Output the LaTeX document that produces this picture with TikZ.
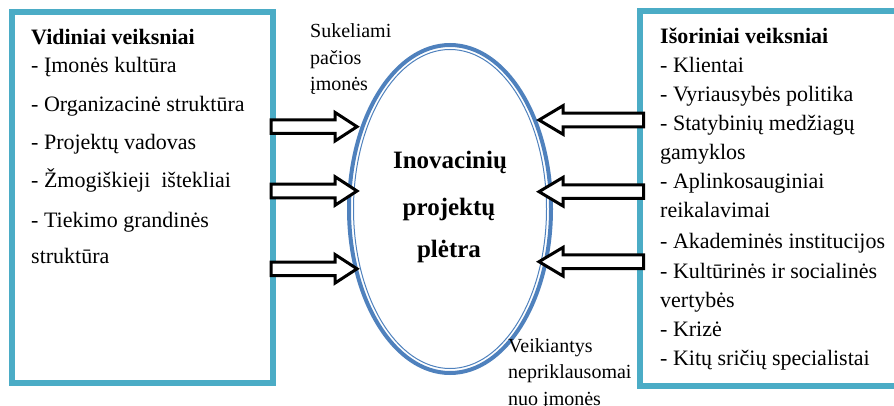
\documentclass[tikz,border=0pt]{standalone}
\usepackage{fontspec}
\setmainfont{Liberation Serif}
\usetikzlibrary{shapes.geometric,calc}
\definecolor{boxblue}{HTML}{4BACC6}
\definecolor{ellblue}{HTML}{4F81BD}
\tikzset{
  framebox/.style={draw=boxblue, line width=6pt, rectangle, inner sep=0pt, fill=white},
  innerframe/.style={draw=boxblue, line width=1.2pt},
  listtxt/.style={anchor=base west, inner sep=0pt, font=\fontsize{22}{26}\selectfont},
  titletxt/.style={listtxt, font=\fontsize{22}{26}\selectfont\bfseries},
  sidetxt/.style={anchor=base west, inner sep=0pt, font=\fontsize{20}{24}\selectfont},
  centertxt/.style={anchor=base, inner sep=0pt, font=\fontsize{25}{30}\selectfont\bfseries},
  blockarrow/.style={draw=black, line width=3pt, fill=white, line join=miter},
}
\newcommand{\blockarr}[3]{%
  \draw[blockarrow] let \p1=(#1), \p2=(#2) in
   (\x1,{\y1+6.8pt}) -- ({\x2-(#3)*1pt},{\y1+6.8pt}) -- ({\x2-(#3)*1pt},{\y1+14.3pt}) -- (\x2,\y2)
   -- ({\x2-(#3)*1pt},{\y1-14.3pt}) -- ({\x2-(#3)*1pt},{\y1-6.8pt}) -- (\x1,{\y1-6.8pt}) -- cycle;}
\begin{document}
\begin{tikzpicture}[x=1pt,y=-1pt]
\useasboundingbox (0,0) rectangle (894,406);
\clip (0,0) rectangle (894,406);
% boxes
\node[framebox, minimum width=261.2pt, minimum height=370.2pt] (vid) at (142.1,197.6) {};
\draw[innerframe] ([xshift=5pt,yshift=-5pt]vid.north west) rectangle ([xshift=-5pt,yshift=5pt]vid.south east);
\node[framebox, minimum width=259.7pt, minimum height=374.8pt] (isor) at (770.15,198.9) {};
\draw[innerframe] ([xshift=5pt,yshift=-5pt]isor.north west) rectangle ([xshift=-5pt,yshift=5pt]isor.south east);
% ellipse
\node[ellipse, draw=ellblue, line width=4pt, minimum width=202pt, minimum height=328pt, inner sep=0pt] (ino) at (450,209) {};
\draw[draw=ellblue, line width=1pt] (ino.center) ellipse [x radius=96.5, y radius=159.5];
% left list
\node[titletxt] (l0) at (31,45) {Vidiniai veiksniai};
\node[listtxt] (l1) at (31,73) {- Įmonės kultūra};
\node[listtxt] (l2) at (31,112) {- Organizacinė struktūra};
\node[listtxt] (l3) at (31,150) {- Projektų vadovas};
\node[listtxt] (l4) at (31,188) {- Žmogiškieji\ \ ištekliai};
\node[listtxt] (l5) at (31,227) {- Tiekimo grandinės};
\node[listtxt] (l6) at (31,263) {struktūra};
% right list
\node[titletxt] (r0) at (660,44) {Išoriniai veiksniai};
\node[listtxt] (r1) at (660,73) {- Klientai};
\node[listtxt] (r2) at (660,102) {- Vyriausybės politika};
\node[listtxt] (r3) at (660,131) {- Statybinių medžiagų};
\node[listtxt] (r4) at (660,160) {gamyklos};
\node[listtxt] (r5) at (660,189) {- Aplinkosauginiai};
\node[listtxt] (r6) at (660,218) {reikalavimai};
\node[listtxt] (r7) at (660,248) {- Akademinės institucijos};
\node[listtxt] (r8) at (660,278) {- Kultūrinės ir socialinės};
\node[listtxt] (r9) at (660,307) {vertybės};
\node[listtxt] (r10) at (660,336) {- Krizė};
\node[listtxt] (r11) at (660,365) {- Kitų sričių specialistai};
% center text
\node[centertxt] (c1) at (450,169) {Inovacinių};
\node[centertxt] (c2) at (449,215) {projektų};
\node[centertxt] (c3) at (449,258) {plėtra};
% side labels
\node[sidetxt] (s1) at (310,38) {Sukeliami};
\node[sidetxt] (s2) at (310,65) {pačios};
\node[sidetxt] (s3) at (310,91) {įmonės};
\node[sidetxt] (b1) at (508,352) {Veikiantys};
\node[sidetxt] (b2) at (508,378) {nepriklausomai};
\node[sidetxt] (b3) at (508,405) {nuo įmonės};
% arrow end points
\coordinate (la1) at (271,126.7); \coordinate (lt1) at (357,126.7);
\coordinate (la2) at (271,191);   \coordinate (lt2) at (357,191);
\coordinate (la3) at (271,268.8); \coordinate (lt3) at (357,268.8);
\coordinate (ra1) at (643.5,120);   \coordinate (rt1) at (539,120);
\coordinate (ra2) at (643.5,191.7); \coordinate (rt2) at (539,191.7);
\coordinate (ra3) at (643.5,261.7); \coordinate (rt3) at (539,261.7);
\blockarr{la1}{lt1}{22}
\blockarr{la2}{lt2}{22}
\blockarr{la3}{lt3}{22}
\blockarr{ra1}{rt1}{-24}
\blockarr{ra2}{rt2}{-24}
\blockarr{ra3}{rt3}{-24}
\end{tikzpicture}
\end{document}
